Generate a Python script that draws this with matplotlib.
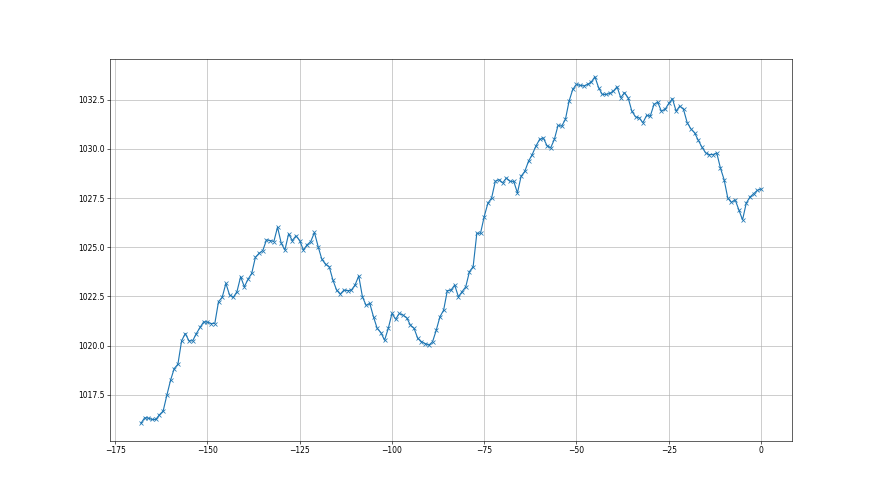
import numpy as np
import matplotlib
matplotlib.use("Agg")
import matplotlib.pyplot as plt

# hourly readings, last week (hours relative to now)
hours = np.arange(-168, 1)

pressure = [
    1016.05, 1016.33, 1016.31, 1016.24, 1016.24, 1016.48, 1016.67, 1017.47, 1018.23, 1018.83,
    1019.05, 1020.24, 1020.61, 1020.24, 1020.24, 1020.61, 1020.92, 1021.21, 1021.19, 1021.12,
    1021.12, 1022.23, 1022.45, 1023.16, 1022.57, 1022.45, 1022.74, 1023.50, 1022.99, 1023.37,
    1023.67, 1024.49, 1024.69, 1024.83, 1025.37, 1025.34, 1025.29, 1026.02, 1025.20, 1024.86,
    1025.68, 1025.34, 1025.58, 1025.34, 1024.86, 1025.12, 1025.29, 1025.75, 1025.03, 1024.39,
    1024.13, 1024.01, 1023.33, 1022.82, 1022.62, 1022.82, 1022.79, 1022.82, 1023.08, 1023.54,
    1022.48, 1022.04, 1022.14, 1021.46, 1020.87, 1020.66, 1020.27, 1020.87, 1021.63, 1021.34,
    1021.63, 1021.55, 1021.41, 1021.04, 1020.87, 1020.36, 1020.20, 1020.10, 1020.02, 1020.19,
    1020.78, 1021.46, 1021.80, 1022.79, 1022.82, 1023.08, 1022.48, 1022.74, 1022.99, 1023.76,
    1024.01, 1025.71, 1025.71, 1026.56, 1027.24, 1027.50, 1028.35, 1028.44, 1028.27, 1028.52,
    1028.35, 1028.35, 1027.76, 1028.61, 1028.86, 1029.37, 1029.71, 1030.14, 1030.48, 1030.56,
    1030.17, 1030.05, 1030.48, 1031.19, 1031.16, 1031.50, 1032.43, 1033.03, 1033.28, 1033.23,
    1033.20, 1033.28, 1033.40, 1033.67, 1033.11, 1032.77, 1032.77, 1032.82, 1032.94, 1033.16,
    1032.60, 1032.86, 1032.60, 1031.92, 1031.63, 1031.58, 1031.33, 1031.70, 1031.67, 1032.26,
    1032.38, 1031.92, 1032.01, 1032.31, 1032.55, 1031.92, 1032.18, 1032.01, 1031.33, 1031.02,
    1030.82, 1030.44, 1030.09, 1029.80, 1029.71, 1029.71, 1029.80, 1029.03, 1028.44, 1027.50,
    1027.28, 1027.41, 1026.90, 1026.39, 1027.24, 1027.55, 1027.72, 1027.89, 1027.96,
]

fig = plt.figure(figsize=(16, 9), dpi=55)
plt.plot(hours, pressure, marker="x")
plt.grid(True)

fig.savefig("out.png", dpi=55)
